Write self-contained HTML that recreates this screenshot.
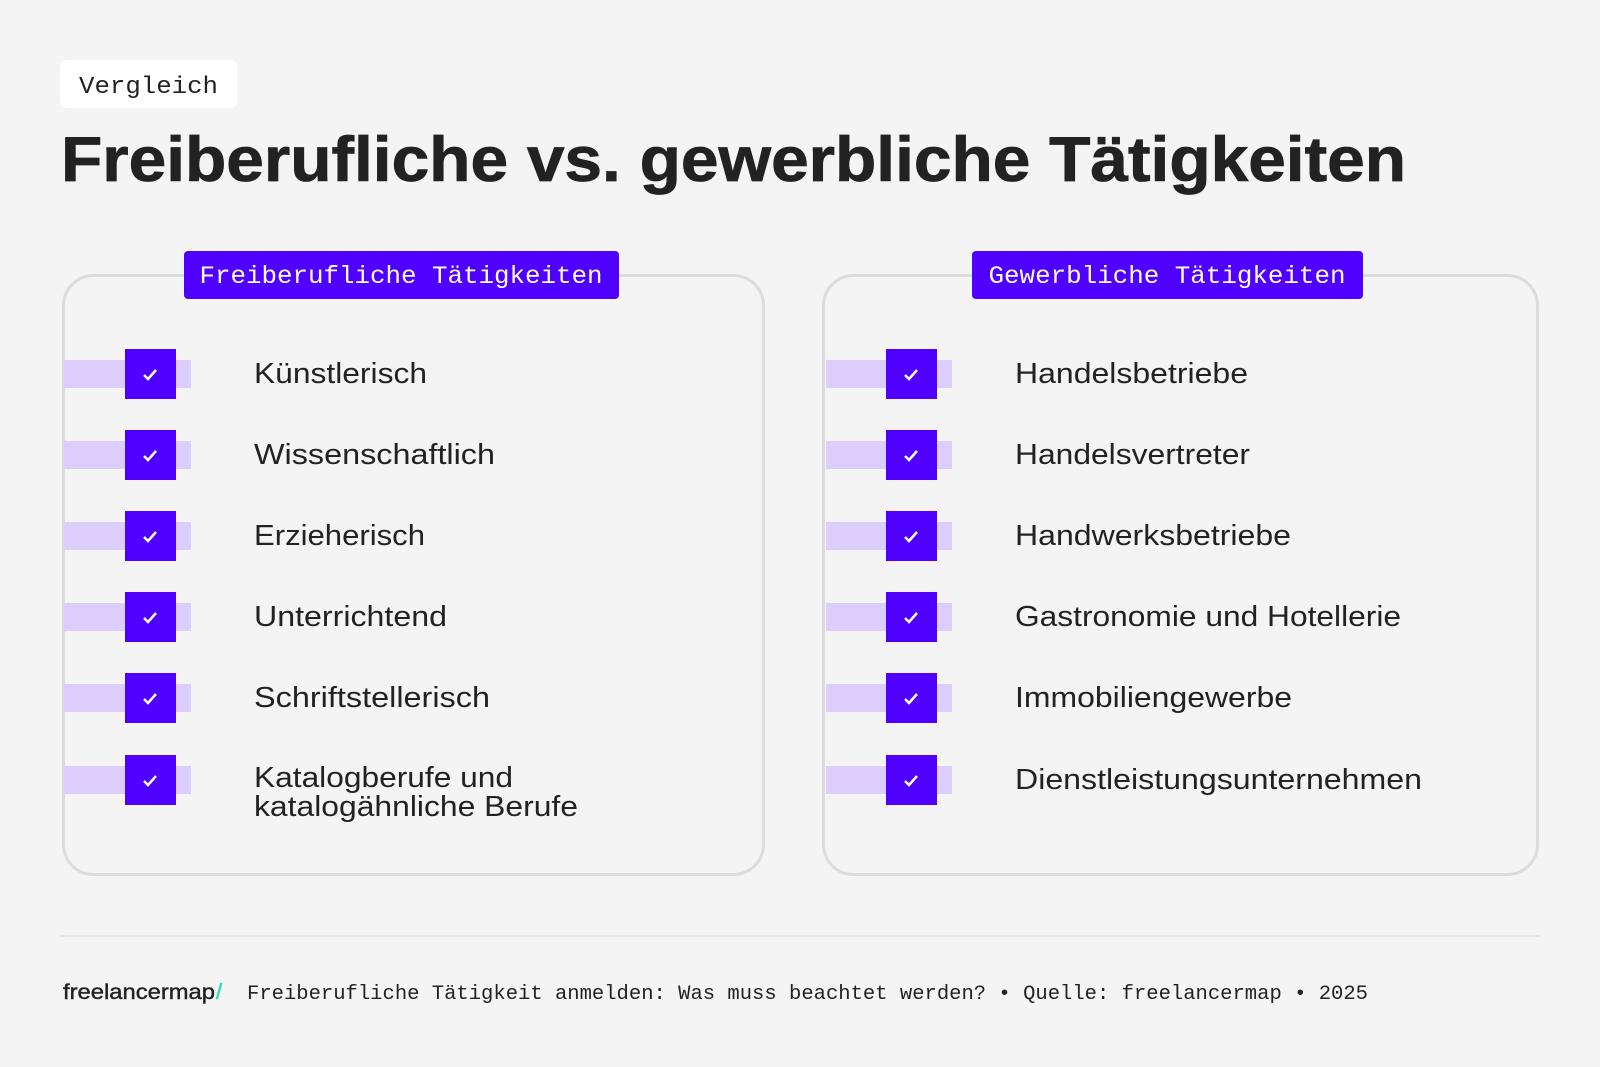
<!DOCTYPE html>
<html><head><meta charset="utf-8"><style>
html,body{margin:0;padding:0;background:#f4f4f4;}
svg{display:block}
</style></head><body>
<svg width="1600" height="1067" viewBox="0 0 1600 1067" xmlns="http://www.w3.org/2000/svg">
<rect width="1600" height="1067" fill="#f4f4f4"/>
<rect x="60" y="60" width="177" height="48" rx="6" fill="#ffffff"/>
<text x="79" y="93" font-family="Liberation Mono, monospace" font-size="24" fill="#222" textLength="139" lengthAdjust="spacingAndGlyphs">Vergleich</text>
<text x="61" y="181" font-family="Liberation Sans, sans-serif" font-weight="bold" font-size="63" fill="#222" stroke="#222" stroke-width="0.8" textLength="1345" lengthAdjust="spacingAndGlyphs">Freiberufliche vs. gewerbliche Tätigkeiten</text>

<rect x="63.5" y="275.5" width="700" height="599" rx="30" fill="none" stroke="#dcdcdc" stroke-width="3"/>
<rect x="823.5" y="275.5" width="714" height="599" rx="30" fill="none" stroke="#dcdcdc" stroke-width="3"/>

<rect x="184" y="251" width="435" height="48" rx="4" fill="#5000ff"/>
<text x="401" y="283" text-anchor="middle" font-family="Liberation Mono, monospace" font-size="25" fill="#fff" textLength="403" lengthAdjust="spacingAndGlyphs">Freiberufliche Tätigkeiten</text>
<rect x="972" y="251" width="391" height="48" rx="4" fill="#5000ff"/>
<text x="1167" y="283" text-anchor="middle" font-family="Liberation Mono, monospace" font-size="25" fill="#fff" textLength="357" lengthAdjust="spacingAndGlyphs">Gewerbliche Tätigkeiten</text>

<g font-family="Liberation Sans, sans-serif" font-size="29" fill="#222">
<g transform="translate(0,374)"><rect x="64" y="-14" width="127" height="28" fill="#dccdfc"/><rect x="125" y="-25" width="51" height="50" fill="#5000ff"/><path d="M144 1 l4 4 l8 -9" stroke="#fff" stroke-width="2.5" fill="none"/><text x="254" y="9" textLength="173" lengthAdjust="spacingAndGlyphs">Künstlerisch</text></g>
<g transform="translate(0,455)"><rect x="64" y="-14" width="127" height="28" fill="#dccdfc"/><rect x="125" y="-25" width="51" height="50" fill="#5000ff"/><path d="M144 1 l4 4 l8 -9" stroke="#fff" stroke-width="2.5" fill="none"/><text x="254" y="9" textLength="241" lengthAdjust="spacingAndGlyphs">Wissenschaftlich</text></g>
<g transform="translate(0,536)"><rect x="64" y="-14" width="127" height="28" fill="#dccdfc"/><rect x="125" y="-25" width="51" height="50" fill="#5000ff"/><path d="M144 1 l4 4 l8 -9" stroke="#fff" stroke-width="2.5" fill="none"/><text x="254" y="9" textLength="171" lengthAdjust="spacingAndGlyphs">Erzieherisch</text></g>
<g transform="translate(0,617)"><rect x="64" y="-14" width="127" height="28" fill="#dccdfc"/><rect x="125" y="-25" width="51" height="50" fill="#5000ff"/><path d="M144 1 l4 4 l8 -9" stroke="#fff" stroke-width="2.5" fill="none"/><text x="254" y="9" textLength="193" lengthAdjust="spacingAndGlyphs">Unterrichtend</text></g>
<g transform="translate(0,698)"><rect x="64" y="-14" width="127" height="28" fill="#dccdfc"/><rect x="125" y="-25" width="51" height="50" fill="#5000ff"/><path d="M144 1 l4 4 l8 -9" stroke="#fff" stroke-width="2.5" fill="none"/><text x="254" y="9" textLength="236" lengthAdjust="spacingAndGlyphs">Schriftstellerisch</text></g>
<g transform="translate(0,780)"><rect x="64" y="-14" width="127" height="28" fill="#dccdfc"/><rect x="125" y="-25" width="51" height="50" fill="#5000ff"/><path d="M144 1 l4 4 l8 -9" stroke="#fff" stroke-width="2.5" fill="none"/><text x="254" y="7" textLength="259" lengthAdjust="spacingAndGlyphs">Katalogberufe und</text><text x="254" y="36" textLength="324" lengthAdjust="spacingAndGlyphs">katalogähnliche Berufe</text></g>

<g transform="translate(0,374)"><rect x="826" y="-14" width="126" height="28" fill="#dccdfc"/><rect x="886" y="-25" width="51" height="50" fill="#5000ff"/><path d="M905 1 l4 4 l8 -9" stroke="#fff" stroke-width="2.5" fill="none"/><text x="1015" y="9" textLength="233" lengthAdjust="spacingAndGlyphs">Handelsbetriebe</text></g>
<g transform="translate(0,455)"><rect x="826" y="-14" width="126" height="28" fill="#dccdfc"/><rect x="886" y="-25" width="51" height="50" fill="#5000ff"/><path d="M905 1 l4 4 l8 -9" stroke="#fff" stroke-width="2.5" fill="none"/><text x="1015" y="9" textLength="235" lengthAdjust="spacingAndGlyphs">Handelsvertreter</text></g>
<g transform="translate(0,536)"><rect x="826" y="-14" width="126" height="28" fill="#dccdfc"/><rect x="886" y="-25" width="51" height="50" fill="#5000ff"/><path d="M905 1 l4 4 l8 -9" stroke="#fff" stroke-width="2.5" fill="none"/><text x="1015" y="9" textLength="276" lengthAdjust="spacingAndGlyphs">Handwerksbetriebe</text></g>
<g transform="translate(0,617)"><rect x="826" y="-14" width="126" height="28" fill="#dccdfc"/><rect x="886" y="-25" width="51" height="50" fill="#5000ff"/><path d="M905 1 l4 4 l8 -9" stroke="#fff" stroke-width="2.5" fill="none"/><text x="1015" y="9" textLength="386" lengthAdjust="spacingAndGlyphs">Gastronomie und Hotellerie</text></g>
<g transform="translate(0,698)"><rect x="826" y="-14" width="126" height="28" fill="#dccdfc"/><rect x="886" y="-25" width="51" height="50" fill="#5000ff"/><path d="M905 1 l4 4 l8 -9" stroke="#fff" stroke-width="2.5" fill="none"/><text x="1015" y="9" textLength="277" lengthAdjust="spacingAndGlyphs">Immobiliengewerbe</text></g>
<g transform="translate(0,780)"><rect x="826" y="-14" width="126" height="28" fill="#dccdfc"/><rect x="886" y="-25" width="51" height="50" fill="#5000ff"/><path d="M905 1 l4 4 l8 -9" stroke="#fff" stroke-width="2.5" fill="none"/><text x="1015" y="9" textLength="407" lengthAdjust="spacingAndGlyphs">Dienstleistungsunternehmen</text></g>
</g>

<rect x="60" y="935" width="1480" height="2" fill="#e6e6e6"/>
<text x="63" y="999" font-family="Liberation Sans, sans-serif" font-size="21" fill="#222" stroke="#222" stroke-width="0.4" textLength="152" lengthAdjust="spacingAndGlyphs">freelancermap</text>
<text x="216" y="999" font-family="Liberation Sans, sans-serif" font-size="22" fill="#2de0b8" stroke="#2de0b8" stroke-width="0.6">/</text>
<text x="247" y="999" font-family="Liberation Mono, monospace" font-size="20" fill="#222" textLength="1121" lengthAdjust="spacingAndGlyphs">Freiberufliche Tätigkeit anmelden: Was muss beachtet werden? • Quelle: freelancermap • 2025</text>
</svg>
</body></html>
